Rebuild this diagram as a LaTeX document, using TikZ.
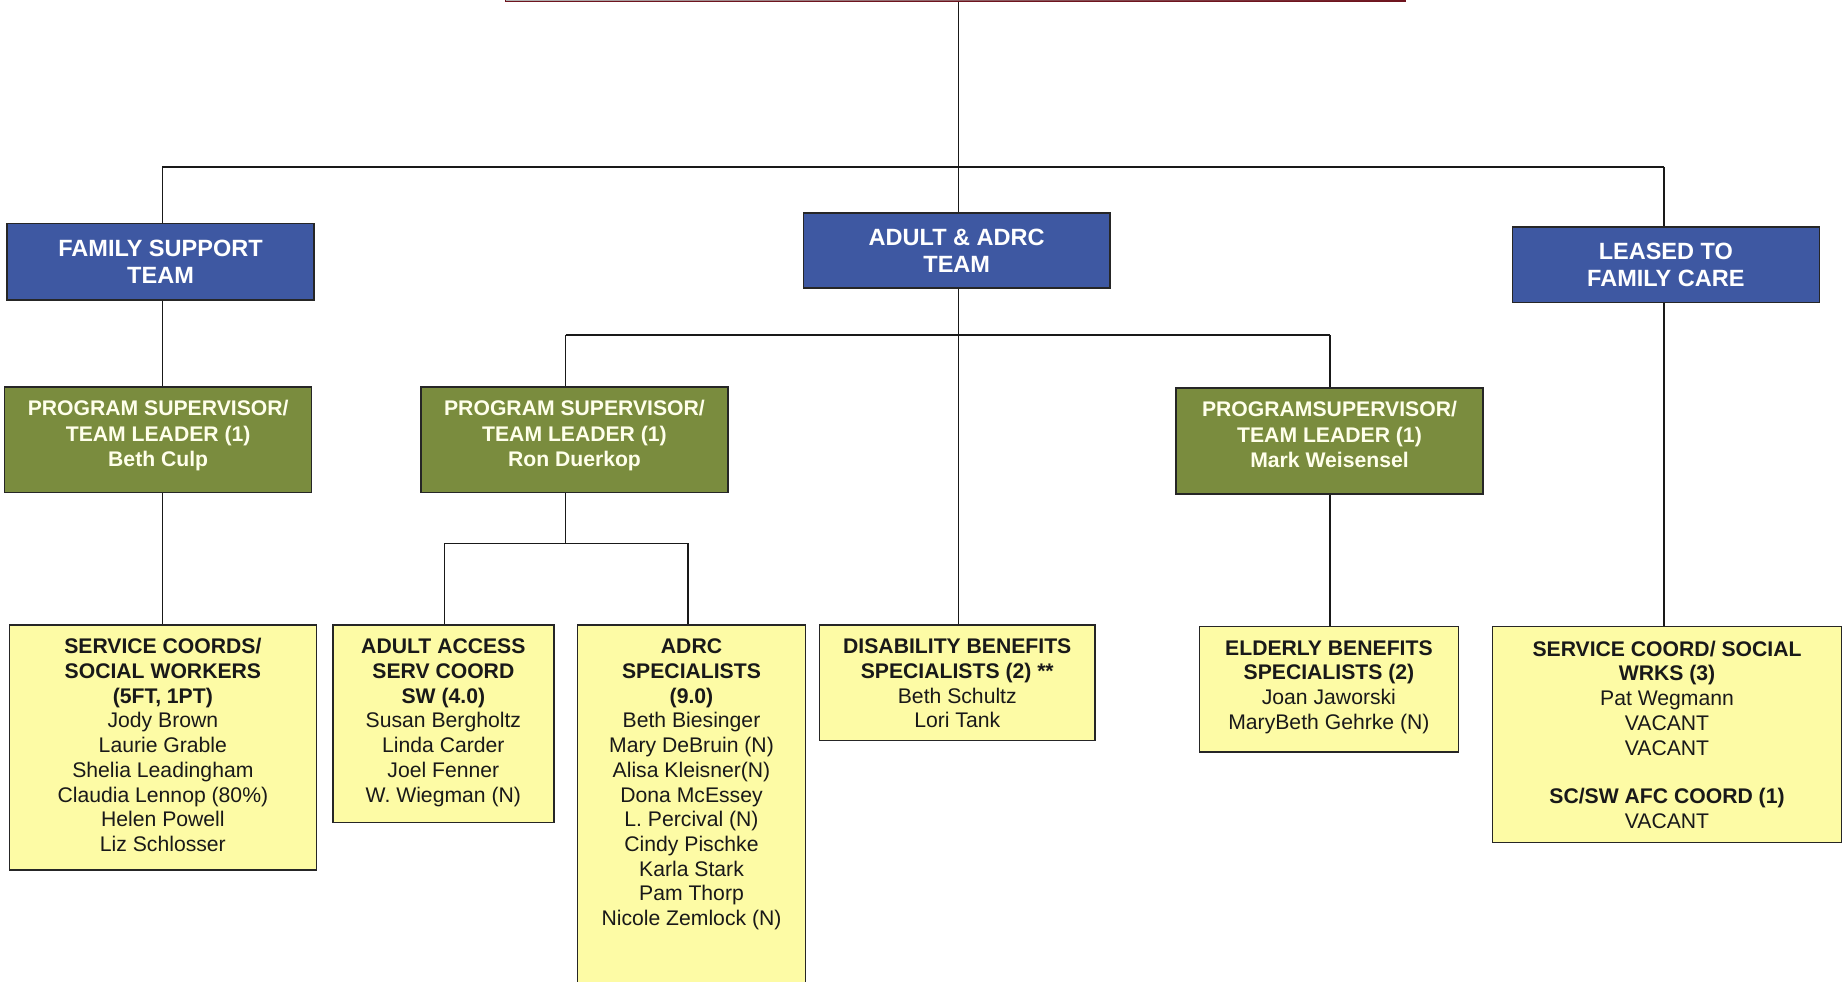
\documentclass[tikz,border=0pt]{standalone}
\usepackage{fontspec}
\setmainfont{Liberation Sans}
\definecolor{teamblue}{RGB}{62,88,162}
\definecolor{supgreen}{RGB}{122,140,62}
\definecolor{staffyellow}{RGB}{253,251,165}
\definecolor{greentext}{RGB}{255,255,235}
\definecolor{topred}{RGB}{110,20,30}
\tikzset{
  conn/.style={line width=0.65pt, draw=black!90},
  bluebox/.style={draw=black!85, line width=0.6pt, fill=teamblue, text=white,
    font=\fontsize{10}{11.5}\selectfont\bfseries, align=center, inner sep=0pt,
    minimum width=130.5pt},
  greenbox/.style={draw=black!85, line width=0.6pt, fill=supgreen, text=greentext,
    font=\fontsize{9}{10.75}\selectfont\bfseries, align=center, inner sep=0pt,
    minimum width=130.5pt, minimum height=45pt},
  yellowbox/.style={draw=black!85, line width=0.6pt, fill=staffyellow, text=black!90,
    font=\fontsize{9}{10.5}\selectfont, inner sep=0pt, anchor=north},
}
\newcommand{\ybox}[3]{\parbox[t][#2][t]{#1}{\centering\rule{0pt}{12.2pt}#3}}
\newcommand{\lowstrut}{\rule[-5.5pt]{0pt}{0pt}}
\begin{document}
\begin{tikzpicture}[x=0.5pt,y=-0.5pt]
\useasboundingbox (0,0) rectangle (1568,835);
% top box (cut off)
\node[draw=topred, line width=0.6pt, left color=black!30, right color=topred,
  minimum width=382.5pt, minimum height=20.75pt, inner sep=0pt] (top) at (812.5,-19.25) {};
% teams
\node[bluebox, minimum height=32.5pt] (fs) at (136.5,222.5) {FAMILY SUPPORT\\TEAM};
\node[bluebox, minimum height=32pt] (adult) at (813.5,213) {ADULT \& ADRC\\TEAM};
\node[bluebox, minimum height=32pt] (lease) at (1416.5,225) {LEASED TO\\FAMILY CARE};
% supervisors
\node[greenbox] (beth) at (134.5,374) {PROGRAM SUPERVISOR/\\TEAM LEADER (1)\\Beth Culp\lowstrut};
\node[greenbox] (ron) at (488.5,374) {PROGRAM SUPERVISOR/\\TEAM LEADER (1)\\Ron Duerkop\lowstrut};
\node[greenbox] (mark) at (1130.5,375) {PROGRAMSUPERVISOR/\\TEAM LEADER (1)\\Mark Weisensel\lowstrut};
% staff
\node[yellowbox] (sc) at (138.5,531) {\ybox{130.5pt}{104pt}{\textbf{SERVICE COORDS/\\SOCIAL WORKERS\\(5FT, 1PT)}\\Jody Brown\\Laurie Grable\\Shelia Leadingham\\Claudia Lennop (80\%)\\Helen Powell\\Liz Schlosser}};
\node[yellowbox] (aa) at (377,531) {\ybox{94pt}{84pt}{\textbf{ADULT ACCESS\\SERV COORD\\SW (4.0)}\\Susan Bergholtz\\Linda Carder\\Joel Fenner\\W. Wiegman (N)}};
\node[yellowbox] (adrc) at (588,531) {\ybox{97pt}{160pt}{\textbf{ADRC\\SPECIALISTS\\(9.0)}\\Beth Biesinger\\Mary DeBruin (N)\\Alisa Kleisner(N)\\Dona McEssey\\L. Percival (N)\\Cindy Pischke\\Karla Stark\\Pam Thorp\\Nicole Zemlock (N)}};
\node[yellowbox] (dis) at (814,531) {\ybox{117pt}{49pt}{\textbf{DISABILITY BENEFITS\\SPECIALISTS (2) **}\\Beth Schultz\\Lori Tank}};
\node[yellowbox] (eld) at (1130,532) {\ybox{110pt}{53.5pt}{\textbf{ELDERLY BENEFITS\\SPECIALISTS (2)}\\Joan Jaworski\\MaryBeth Gehrke (N)}};
\node[yellowbox] (scsw) at (1417.5,532) {\ybox{148.5pt}{92pt}{\rule{0pt}{12.7pt}\textbf{SERVICE COORD/ SOCIAL\\WRKS (3)}\\Pat Wegmann\\VACANT\\VACANT\\[10.3pt]\textbf{SC/SW AFC COORD (1)}\\VACANT}};
% junctions
\coordinate (b1) at (815,142);
\coordinate (bl) at (138,142);
\coordinate (br) at (1415,142);
\coordinate (ml) at (481,285);
\coordinate (mr) at (1131,285);
\coordinate (r1) at (481,462);
\coordinate (rl) at (378,462);
\coordinate (rr) at (585,462);
% connectors
\draw[conn] (top.south -| b1) -- (adult.north -| b1);
\draw[conn] (bl) -- (br);
\draw[conn] (bl) -- (fs.north -| bl);
\draw[conn] (br) -- (lease.north -| br);
\draw[conn] (fs.south -| bl) -- (beth.north -| bl);
\draw[conn] (beth.south -| bl) -- (sc.north -| bl);
\draw[conn] (adult.south -| b1) -- (dis.north -| b1);
\draw[conn] (ml) -- (mr);
\draw[conn] (ml) -- (ron.north -| ml);
\draw[conn] (mr) -- (mark.north -| mr);
\draw[conn] (ron.south -| ml) -- (r1);
\draw[conn] (rl) -- (rr);
\draw[conn] (rl) -- (aa.north -| rl);
\draw[conn] (rr) -- (adrc.north -| rr);
\draw[conn] (mark.south -| mr) -- (eld.north -| mr);
\draw[conn] (lease.south -| br) -- (scsw.north -| br);
\end{tikzpicture}
\end{document}
